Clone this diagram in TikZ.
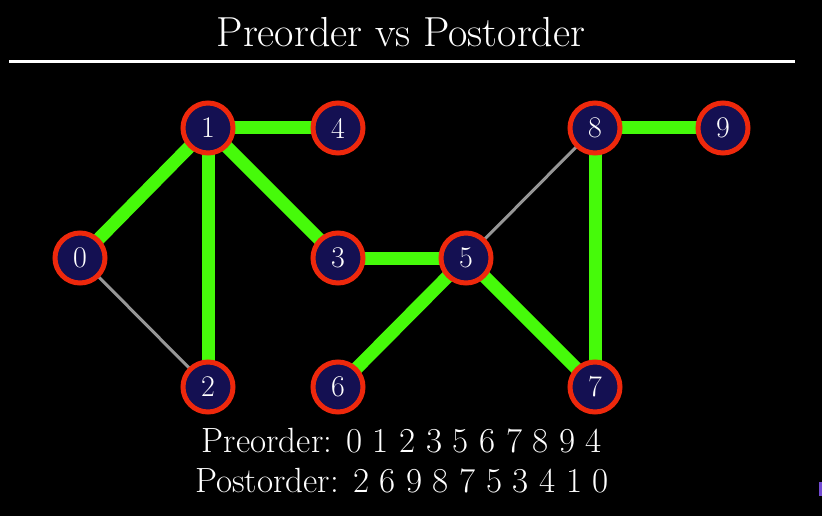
\documentclass[tikz,border=0pt]{standalone}
\usepackage{fontspec}
\usetikzlibrary{backgrounds}
\begin{document}
\definecolor{ringred}{RGB}{238,40,12}
\definecolor{navy}{RGB}{20,16,82}
\definecolor{treegreen}{RGB}{70,250,10}
\definecolor{backgray}{RGB}{150,150,150}
\definecolor{marker}{RGB}{115,75,210}
\begin{tikzpicture}[x=1pt,y=-1pt,
  vertex/.style={circle,draw=ringred,line width=5pt,fill=navy,
    minimum size=50pt,inner sep=0pt,text=white,
    font=\fontsize{30}{34}\selectfont},
  treeedge/.style={treegreen,line width=13pt},
  backedge/.style={backgray,line width=3pt},
  caption/.style={text=white,anchor=base,inner sep=0pt}]
  % canvas
  \useasboundingbox (0,0) rectangle (822,516);

  % heading and rule
  \node[caption,font=\fontsize{42}{48}\selectfont] (title) at (401,47) {Preorder vs Postorder};
  \coordinate (ruleL) at (9,62);
  \coordinate (ruleR) at (795,62);
  \draw[white,line width=3pt] (ruleL) -- (ruleR);

  % vertices
  \node[vertex] (n0) at (80,258) {0};
  \node[vertex] (n1) at (208,128) {1};
  \node[vertex] (n4) at (338,128) {4};
  \node[vertex] (n8) at (595,128) {8};
  \node[vertex] (n9) at (723,128) {9};
  \node[vertex] (n3) at (338,258) {3};
  \node[vertex] (n5) at (466,258) {5};
  \node[vertex] (n2) at (208,387) {2};
  \node[vertex] (n6) at (338,387) {6};
  \node[vertex] (n7) at (595,387) {7};

  % edges behind the vertices
  \begin{scope}[on background layer]
    \fill[black] (0,0) rectangle (822,516);
    \draw[backedge] (n0.center) -- (n2.center);
    \draw[backedge] (n5.center) -- (n8.center);
    \draw[treeedge] (n0.center) -- (n1.center);
    \draw[treeedge] (n1.center) -- (n4.center);
    \draw[treeedge] (n1.center) -- (n2.center);
    \draw[treeedge] (n1.center) -- (n3.center);
    \draw[treeedge] (n3.center) -- (n5.center);
    \draw[treeedge] (n5.center) -- (n6.center);
    \draw[treeedge] (n5.center) -- (n7.center);
    \draw[treeedge] (n7.center) -- (n8.center);
    \draw[treeedge] (n8.center) -- (n9.center);
  \end{scope}

  % traversal orders
  \node[caption,font=\fontsize{35}{41}\selectfont] (pre) at (402,452)
    {Preorder: 0 1 2 3 5 6 7 8 9 4};
  \node[caption,font=\fontsize{35}{41}\selectfont] (post) at (402,492)
    {Postorder: 2 6 9 8 7 5 3 4 1 0};

  % small mark at the right edge
  \fill[marker] (818.5,482) rectangle (822,496);
\end{tikzpicture}
\end{document}
